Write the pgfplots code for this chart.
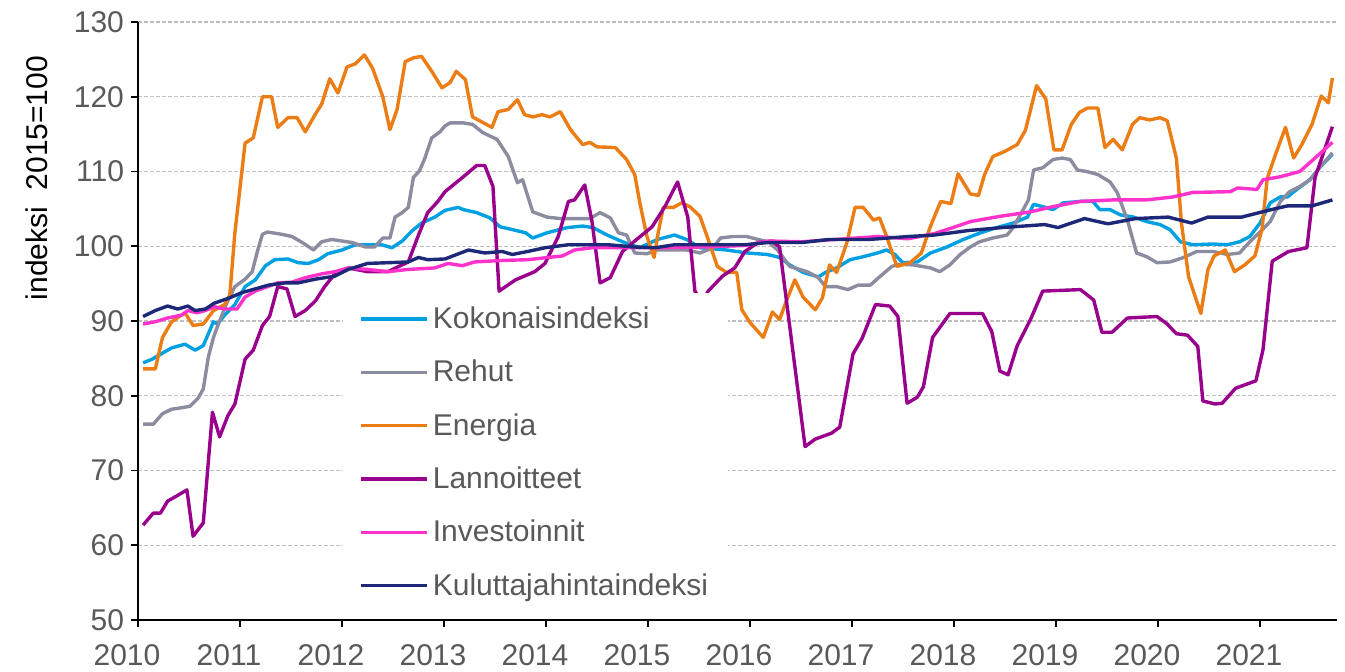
\documentclass[border=0pt]{standalone}
\usepackage{fontspec}
\setmainfont{Liberation Sans}
\usepackage{pgfplots}
\pgfplotsset{compat=1.18}
\definecolor{cKok}{RGB}{0,160,226}
\definecolor{cReh}{RGB}{140,140,160}
\definecolor{cEne}{RGB}{235,125,20}
\definecolor{cLan}{RGB}{153,0,140}
\definecolor{cInv}{RGB}{255,51,204}
\definecolor{cKul}{RGB}{30,40,120}
\definecolor{txtgray}{RGB}{89,89,89}
\begin{document}
\begin{tikzpicture}
\begin{axis}[name=ax, scale only axis, width=599.5pt, height=299pt,
  xmin=2010, xmax=2021.755, ymin=50, ymax=130,
  xtick={2010,2011,...,2021}, ytick={50,60,...,130},
  axis x line=bottom, axis y line=left,
  axis line style={-, black, line width=1pt},
  tick align=outside, major tick length=3.5pt,
  tick style={black, line width=0.8pt},
  ymajorgrids, grid style={dash pattern=on 2pt off 1pt, black!25, line width=0.6pt},
  /pgf/number format/assume math mode=true,
  /pgf/number format/1000 sep={},
  ticklabel style={text=txtgray, font=\fontsize{15}{17}\selectfont},
  xticklabel style={xshift=-5.5pt, yshift=-5pt},
  ylabel={indeksi\ \ 2015=100},
  ylabel style={at={(axis description cs:-0.0843,0.739)}, anchor=center, font=\fontsize{15}{17}\selectfont},
  legend style={at={(0.171,0.548)}, anchor=north west, draw=none, fill=white,
    font=\fontsize{15}{17}\selectfont, text=txtgray,
    inner xsep=8pt, inner ysep=5pt, row sep=10.3pt, cells={anchor=west}},
  legend cell align=left,
  legend image code/.code={\draw[#1] (0pt,0pt) -- (33pt,0pt);},
  every axis plot/.append style={line width=1.7pt, line join=round}
]
\addplot[cKok] coordinates {(2010.05,84.4)(2010.14,84.9)(2010.24,85.7)(2010.33,86.4)(2010.46,86.9)(2010.56,86.1)(2010.64,86.7)(2010.74,89.9)(2010.78,89.6)(2010.85,90.8)(2010.95,92.2)(2011.05,94.6)(2011.15,95.5)(2011.25,97.4)(2011.34,98.2)(2011.47,98.3)(2011.57,97.8)(2011.67,97.7)(2011.77,98.2)(2011.86,99)(2012.00,99.5)(2012.13,100.2)(2012.25,100.2)(2012.39,100.2)(2012.49,99.8)(2012.59,100.7)(2012.69,102.1)(2012.78,103.1)(2012.91,103.9)(2013.01,104.8)(2013.14,105.2)(2013.19,104.9)(2013.32,104.5)(2013.45,103.8)(2013.55,102.6)(2013.68,102.2)(2013.80,101.8)(2013.87,101.1)(2014.01,101.8)(2014.21,102.5)(2014.36,102.7)(2014.46,102.5)(2014.60,101.5)(2014.75,100.6)(2014.92,99.8)(2015.09,100.9)(2015.26,101.5)(2015.38,100.9)(2015.51,99.8)(2015.77,99.5)(2015.97,99.1)(2016.17,98.9)(2016.29,98.5)(2016.39,97.5)(2016.52,96.5)(2016.67,95.9)(2016.74,96.5)(2016.85,97.1)(2016.98,98.2)(2017.11,98.6)(2017.25,99.1)(2017.34,99.5)(2017.42,98.9)(2017.50,97.8)(2017.64,97.9)(2017.77,99.1)(2017.93,99.9)(2018.09,100.9)(2018.26,101.8)(2018.42,102.5)(2018.58,103.1)(2018.72,103.9)(2018.78,105.6)(2018.87,105.3)(2018.97,104.9)(2019.07,105.8)(2019.24,106)(2019.36,106)(2019.43,104.9)(2019.53,104.9)(2019.63,104.2)(2019.76,103.9)(2019.89,103.3)(2020.02,102.9)(2020.12,102.2)(2020.22,100.6)(2020.34,100.2)(2020.54,100.3)(2020.68,100.2)(2020.80,100.6)(2020.90,101.3)(2021.00,103.1)(2021.10,105.8)(2021.20,106.6)(2021.27,106.6)(2021.36,107.6)(2021.49,108.9)(2021.59,110.6)(2021.71,112.3)};
\addlegendentry{Kokonaisindeksi}
\addplot[cReh] coordinates {(2010.05,76.2)(2010.15,76.2)(2010.24,77.6)(2010.33,78.2)(2010.43,78.4)(2010.51,78.6)(2010.59,79.7)(2010.64,80.9)(2010.69,85.2)(2010.74,87.8)(2010.78,89.3)(2010.87,92.4)(2010.95,94.6)(2011.05,95.6)(2011.12,96.6)(2011.17,99.3)(2011.22,101.6)(2011.27,101.9)(2011.41,101.6)(2011.51,101.3)(2011.61,100.5)(2011.72,99.5)(2011.80,100.6)(2011.90,100.9)(2012.00,100.7)(2012.10,100.5)(2012.23,99.9)(2012.32,99.9)(2012.40,101.1)(2012.47,101.1)(2012.52,103.9)(2012.59,104.5)(2012.65,105.2)(2012.70,109.2)(2012.76,110.1)(2012.81,111.7)(2012.88,114.5)(2012.96,115.3)(2013.01,116.1)(2013.06,116.5)(2013.19,116.5)(2013.28,116.3)(2013.38,115.2)(2013.52,114.3)(2013.63,112)(2013.72,108.5)(2013.77,108.9)(2013.87,104.6)(2014.01,103.9)(2014.14,103.7)(2014.30,103.7)(2014.43,103.7)(2014.53,104.5)(2014.63,103.8)(2014.71,101.8)(2014.79,101.5)(2014.87,99.1)(2014.99,99)(2015.09,99.5)(2015.25,99.5)(2015.38,99.5)(2015.51,99.1)(2015.64,99.8)(2015.71,101.1)(2015.83,101.3)(2015.97,101.3)(2016.08,100.9)(2016.18,100.6)(2016.27,99.5)(2016.39,97.3)(2016.56,96.6)(2016.67,95.8)(2016.74,94.6)(2016.85,94.6)(2016.96,94.2)(2017.06,94.8)(2017.18,94.8)(2017.27,95.9)(2017.39,97.3)(2017.47,97.6)(2017.60,97.5)(2017.77,97.1)(2017.86,96.6)(2017.96,97.5)(2018.06,98.9)(2018.16,99.9)(2018.25,100.6)(2018.38,101.1)(2018.52,101.5)(2018.58,102.5)(2018.65,104.2)(2018.73,106.2)(2018.78,110.2)(2018.87,110.5)(2018.97,111.6)(2019.06,111.8)(2019.14,111.6)(2019.21,110.2)(2019.30,110)(2019.41,109.6)(2019.53,108.6)(2019.60,107.2)(2019.70,103.5)(2019.79,99.1)(2019.89,98.6)(2019.99,97.8)(2020.12,97.9)(2020.25,98.5)(2020.38,99.3)(2020.54,99.3)(2020.68,98.9)(2020.80,99.1)(2020.90,100.6)(2021.00,101.9)(2021.10,103.3)(2021.20,106)(2021.29,107.3)(2021.39,108)(2021.49,108.9)(2021.59,110.6)(2021.71,112.5)};
\addlegendentry{Rehut}
\addplot[cEne] coordinates {(2010.05,83.6)(2010.17,83.6)(2010.24,87.8)(2010.33,89.9)(2010.46,91.1)(2010.54,89.4)(2010.64,89.6)(2010.74,91.4)(2010.85,92.2)(2010.90,93.5)(2010.95,101.8)(2011.05,113.8)(2011.13,114.5)(2011.22,120)(2011.31,120)(2011.37,115.9)(2011.47,117.2)(2011.56,117.2)(2011.64,115.3)(2011.74,117.7)(2011.80,119)(2011.88,122.4)(2011.96,120.5)(2012.05,124)(2012.13,124.4)(2012.22,125.6)(2012.30,123.8)(2012.40,120)(2012.47,115.6)(2012.54,118.3)(2012.62,124.7)(2012.70,125.2)(2012.78,125.4)(2012.88,123.4)(2012.98,121.2)(2013.06,121.9)(2013.12,123.4)(2013.21,122.3)(2013.28,117.3)(2013.47,115.9)(2013.53,118)(2013.63,118.3)(2013.72,119.6)(2013.79,117.6)(2013.87,117.3)(2013.96,117.6)(2014.04,117.3)(2014.14,118)(2014.24,115.6)(2014.36,113.6)(2014.43,113.9)(2014.50,113.3)(2014.68,113.2)(2014.79,111.6)(2014.87,109.6)(2014.92,105.8)(2014.99,101.3)(2015.06,98.5)(2015.10,101.8)(2015.15,105.2)(2015.25,105.2)(2015.33,105.8)(2015.41,105.3)(2015.51,104)(2015.59,100.9)(2015.68,97.3)(2015.77,96.5)(2015.87,96.5)(2015.92,91.5)(2016.00,89.8)(2016.13,87.8)(2016.22,91.2)(2016.29,90.2)(2016.36,92.8)(2016.44,95.5)(2016.52,93.2)(2016.64,91.5)(2016.71,93.1)(2016.78,97.5)(2016.85,96.5)(2016.95,100.5)(2017.03,105.2)(2017.11,105.2)(2017.21,103.5)(2017.27,103.8)(2017.34,101.3)(2017.44,97.3)(2017.57,97.8)(2017.68,99.1)(2017.77,102.7)(2017.87,106)(2017.97,105.7)(2018.04,109.7)(2018.16,107)(2018.24,106.8)(2018.30,109.6)(2018.38,112)(2018.50,112.7)(2018.62,113.6)(2018.70,115.5)(2018.81,121.5)(2018.90,119.7)(2018.98,112.9)(2019.06,112.9)(2019.15,116.3)(2019.23,117.9)(2019.31,118.5)(2019.41,118.5)(2019.48,113.2)(2019.56,114.3)(2019.65,112.9)(2019.75,116.3)(2019.82,117.2)(2019.92,116.9)(2020.02,117.2)(2020.09,116.8)(2020.18,111.8)(2020.23,103.1)(2020.30,95.9)(2020.42,91)(2020.49,96.9)(2020.55,98.7)(2020.66,99.5)(2020.75,96.6)(2020.85,97.5)(2020.95,98.7)(2021.02,102.3)(2021.07,109)(2021.15,112.2)(2021.25,115.9)(2021.33,111.8)(2021.41,113.6)(2021.51,116.3)(2021.60,120.1)(2021.67,119.2)(2021.71,122.5)};
\addlegendentry{Energia}
\addplot[cLan] coordinates {(2010.05,62.7)(2010.15,64.3)(2010.22,64.3)(2010.29,65.9)(2010.38,66.6)(2010.48,67.4)(2010.54,61.2)(2010.64,63)(2010.73,77.8)(2010.80,74.5)(2010.88,77.3)(2010.95,78.9)(2011.05,84.9)(2011.13,86.1)(2011.22,89.4)(2011.29,90.6)(2011.37,94.6)(2011.46,94.3)(2011.54,90.6)(2011.64,91.4)(2011.74,92.7)(2011.83,94.6)(2011.93,96.3)(2012.06,97.1)(2012.25,96.6)(2012.45,96.6)(2012.65,97.9)(2012.75,101.5)(2012.84,104.5)(2012.94,106)(2013.01,107.3)(2013.19,109.3)(2013.32,110.8)(2013.40,110.8)(2013.48,108)(2013.54,94)(2013.70,95.5)(2013.89,96.6)(2013.99,97.7)(2014.12,101.3)(2014.22,106)(2014.28,106.2)(2014.38,108.2)(2014.45,103.4)(2014.53,95.1)(2014.63,95.8)(2014.75,99.3)(2014.87,100.7)(2015.04,102.6)(2015.17,105.4)(2015.29,108.6)(2015.39,103.9)(2015.46,94)(2015.53,92.5)(2015.59,94)(2015.73,96)(2015.85,97.1)(2015.95,99.3)(2016.08,100.5)(2016.22,100.7)(2016.29,99.9)(2016.54,73.2)(2016.64,74.2)(2016.80,75)(2016.88,75.8)(2017.01,85.6)(2017.10,87.7)(2017.23,92.2)(2017.37,92)(2017.45,90.6)(2017.54,79)(2017.64,79.8)(2017.70,81.2)(2017.79,87.8)(2017.96,91)(2018.28,91)(2018.37,88.6)(2018.45,83.3)(2018.53,82.8)(2018.62,86.7)(2018.75,90.2)(2018.87,94)(2019.24,94.2)(2019.37,92.8)(2019.45,88.5)(2019.55,88.5)(2019.70,90.4)(2019.99,90.6)(2020.09,89.6)(2020.18,88.3)(2020.29,88.1)(2020.39,86.6)(2020.44,79.3)(2020.56,78.9)(2020.63,79)(2020.76,81)(2020.96,82)(2021.03,86.2)(2021.12,98)(2021.28,99.3)(2021.46,99.8)(2021.54,109.2)(2021.71,116)};
\addlegendentry{Lannoitteet}
\addplot[cInv] coordinates {(2010.05,89.6)(2010.17,89.9)(2010.29,90.4)(2010.43,90.8)(2010.49,91.4)(2010.58,91.1)(2010.66,91.4)(2010.75,91.9)(2010.85,91.6)(2010.97,91.6)(2011.05,93.2)(2011.15,94)(2011.27,94.6)(2011.37,95.1)(2011.51,95.2)(2011.64,95.8)(2011.80,96.3)(2011.93,96.6)(2012.06,97.1)(2012.25,96.9)(2012.45,96.6)(2012.65,96.9)(2012.91,97.1)(2013.04,97.7)(2013.18,97.4)(2013.30,97.9)(2013.57,98.1)(2013.82,98.2)(2014.02,98.5)(2014.16,98.7)(2014.28,99.5)(2014.45,99.8)(2014.68,99.8)(2015.07,99.8)(2015.53,99.9)(2015.95,100.1)(2016.18,100.7)(2016.51,100.6)(2016.83,100.9)(2017.25,101.3)(2017.55,101)(2017.81,101.7)(2017.99,102.5)(2018.16,103.3)(2018.45,104)(2018.75,104.6)(2018.97,105.3)(2019.24,106)(2019.56,106.2)(2019.89,106.2)(2020.15,106.6)(2020.34,107.2)(2020.71,107.3)(2020.78,107.8)(2020.97,107.6)(2021.03,108.9)(2021.20,109.3)(2021.39,110)(2021.49,111.2)(2021.71,113.9)};
\addlegendentry{Investoinnit}
\addplot[cKul] coordinates {(2010.05,90.6)(2010.17,91.4)(2010.29,92)(2010.39,91.6)(2010.49,92)(2010.56,91.4)(2010.66,91.6)(2010.75,92.4)(2010.88,93)(2011.02,93.8)(2011.15,94.3)(2011.28,94.8)(2011.44,95.1)(2011.57,95.1)(2011.74,95.6)(2011.93,96)(2012.06,96.9)(2012.25,97.7)(2012.45,97.8)(2012.65,97.9)(2012.75,98.5)(2012.84,98.2)(2013.01,98.3)(2013.24,99.5)(2013.40,99.1)(2013.57,99.3)(2013.67,98.9)(2013.82,99.3)(2013.99,99.8)(2014.22,100.2)(2014.61,100.2)(2014.87,99.9)(2015.07,99.8)(2015.26,100.2)(2015.95,100.2)(2016.18,100.5)(2016.51,100.5)(2016.77,100.9)(2017.16,100.9)(2017.55,101.3)(2017.81,101.5)(2018.14,102.1)(2018.47,102.5)(2018.89,102.9)(2019.02,102.5)(2019.28,103.7)(2019.51,103)(2019.78,103.7)(2020.10,103.9)(2020.33,103.1)(2020.49,103.9)(2020.82,103.9)(2021.08,104.8)(2021.27,105.4)(2021.51,105.4)(2021.71,106.2)};
\addlegendentry{Kuluttajahintaindeksi}
\end{axis}
\pgfresetboundingbox
\path[use as bounding box] ([shift={(-69pt,-25.5pt)}]ax.south west) rectangle ([shift={(4pt,11pt)}]ax.north east);
\end{tikzpicture}
\end{document}
